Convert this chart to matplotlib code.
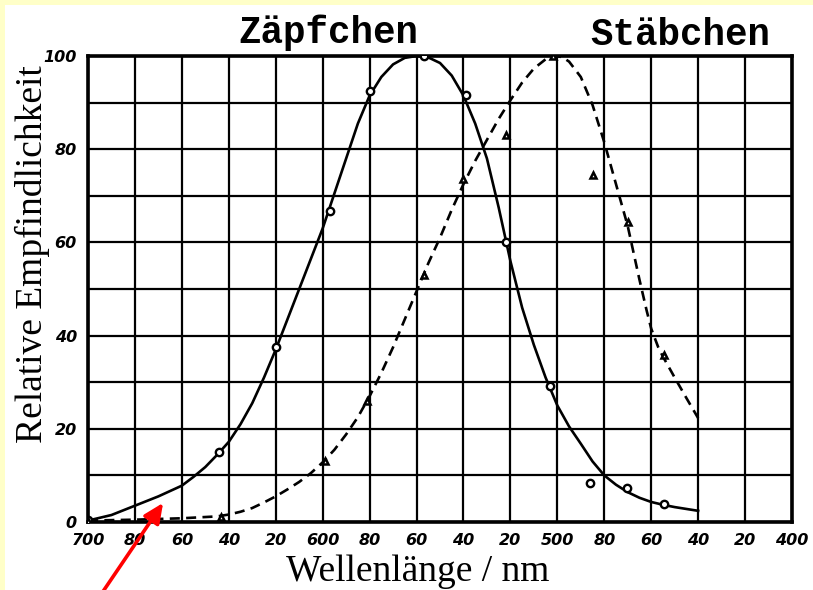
import numpy as np
import matplotlib.pyplot as plt
from matplotlib.patches import Rectangle

# Zäpfchen (cones): measured points and drawn curve
cone_pts_nm = [700, 644, 620, 597, 580, 557, 539, 522, 503, 486, 470.5, 454.5]
cone_pts_val = [0.5, 15.0, 37.5, 66.7, 92.5, 100, 91.6, 60.0, 29.2, 8.4, 7.4, 3.8]
cone_curve_nm = [700, 690, 680, 670, 660, 655, 650, 645, 640, 635, 630, 625, 620, 615, 610,
                 605, 600, 595, 590, 585, 580, 575, 570, 565, 560, 555, 550, 545, 540,
                 535, 530, 525, 520, 515, 510, 505, 500, 495, 490, 485, 480, 475, 470,
                 465, 460, 455, 450, 445, 440]
cone_curve_val = [0.3, 1.5, 3.5, 5.5, 7.8, 9.7, 11.8, 14.4, 17.2, 21.0, 25.5, 31.0, 37.0, 43.5, 50.0,
                  56.5, 63.0, 70.5, 78.0, 85.5, 91.5, 95.5, 98.2, 99.6, 100, 99.7, 98.5, 95.8, 91.5,
                  85.5, 78.0, 67.5, 56.0, 46.0, 38.0, 31.0, 25.0, 20.5, 16.8, 13.0, 10.0, 8.0, 6.4,
                  5.2, 4.3, 3.7, 3.2, 2.8, 2.4]

# Stäbchen (rods): measured points and drawn curve
rod_pts_nm = [700, 643.5, 599, 581, 557, 540, 522, 502, 485, 470, 454.5]
rod_pts_val = [0.3, 1.1, 13.1, 26.0, 53.0, 73.7, 83.0, 100, 74.5, 64.4, 35.8]
rod_curve_nm = [700, 680, 660, 645, 640, 635, 630, 625, 620, 615, 610, 605, 600, 595,
                590, 585, 580, 575, 570, 565, 560, 555, 550, 545, 540, 535, 530, 525,
                520, 515, 510, 505, 502, 498, 495, 490, 485, 480, 475, 470, 465, 462,
                460, 457, 455, 450, 445, 440]
rod_curve_val = [0.3, 0.5, 0.8, 1.2, 1.6, 2.2, 3.0, 4.2, 5.5, 7.0, 8.6, 10.5, 12.8, 15.5,
                 18.8, 22.5, 27.0, 32.0, 37.5, 43.5, 49.5, 55.5, 61.0, 67.0, 72.5, 77.5, 82.0, 86.5,
                 90.5, 94.3, 97.3, 99.3, 100, 99.8, 98.8, 95.5, 89.5, 81.5, 72.5, 63.5, 52.0, 45.5,
                 41.5, 37.5, 35.5, 31.0, 26.6, 22.3]

x_ticks = list(range(700, 399, -20))
x_labels = ["700", "80", "60", "40", "20", "600", "80", "60", "40", "20",
            "500", "80", "60", "40", "20", "400"]
y_ticks = [0, 20, 40, 60, 80, 100]

fig = plt.figure(figsize=(8.13, 5.9), dpi=100)
fig.patch.set_facecolor("#FFFFC8")
# white sheet, leaving a thin yellow strip on top and left
fig.patches.append(Rectangle((5 / 813, 0), 1, 1 - 5 / 590, transform=fig.transFigure,
                             facecolor="white", edgecolor="none", zorder=-5))

ax = fig.add_axes([88 / 813, 68 / 590, 704 / 813, 466 / 590])
ax.set_facecolor("white")
ax.set_xlim(700, 400)
ax.set_ylim(0, 100)

for xv in range(700, 399, -20):
    ax.axvline(xv, color="black", lw=1.6, zorder=1)
for yv in range(0, 101, 10):
    ax.axhline(yv, color="black", lw=1.6, zorder=1)
for s in ax.spines.values():
    s.set_linewidth(2.6)
    s.set_color("black")

ax.plot(cone_curve_nm, cone_curve_val, color="black", lw=1.9, zorder=3,
        solid_joinstyle="round")
ax.plot(rod_curve_nm, rod_curve_val, color="black", lw=1.9, ls=(0, (3.8, 2.4)), zorder=3)
ax.plot(cone_pts_nm, cone_pts_val, ls="none", marker="o", ms=5.3, mfc="white",
        mec="black", mew=1.7, zorder=4)
ax.plot(rod_pts_nm, rod_pts_val, ls="none", marker="^", ms=5, mfc="white",
        mec="black", mew=1.8, zorder=4)

tick_font = dict(fontsize=11.5, fontweight="bold", fontstyle="oblique", family="DejaVu Sans")
ax.set_xticks(x_ticks)
ax.set_xticklabels(x_labels, **tick_font)
ax.set_yticks(y_ticks)
ax.set_yticklabels([str(v) for v in y_ticks], **tick_font)
ax.tick_params(length=0, pad=8)

ax.set_xlabel("Wellenlänge / nm", family="Liberation Serif", fontsize=27)
ax.set_ylabel("Relative Empfindlichkeit", family="Liberation Serif", fontsize=27)
ax.xaxis.set_label_coords(0.469, -0.07)
ax.yaxis.set_label_coords(-0.054, 0.575)

fig.text(328 / 813, 1 - 33 / 590, "Zäpfchen", family="Liberation Mono", fontweight="bold",
         fontsize=27, ha="center", va="center")
fig.text(680 / 813, 1 - 35 / 590, "Stäbchen", family="Liberation Mono", fontweight="bold",
         fontsize=27, ha="center", va="center")

ax.annotate("", xy=(668, 4.1), xycoords="data", xytext=(100 / 813, -0.01),
            textcoords="figure fraction",
            arrowprops=dict(arrowstyle="-|>,head_length=1.2,head_width=0.55",
                            color="red", lw=2.6, shrinkA=0, shrinkB=0),
            annotation_clip=False, zorder=6)

fig.savefig("out.png", dpi=100, facecolor=fig.get_facecolor())
